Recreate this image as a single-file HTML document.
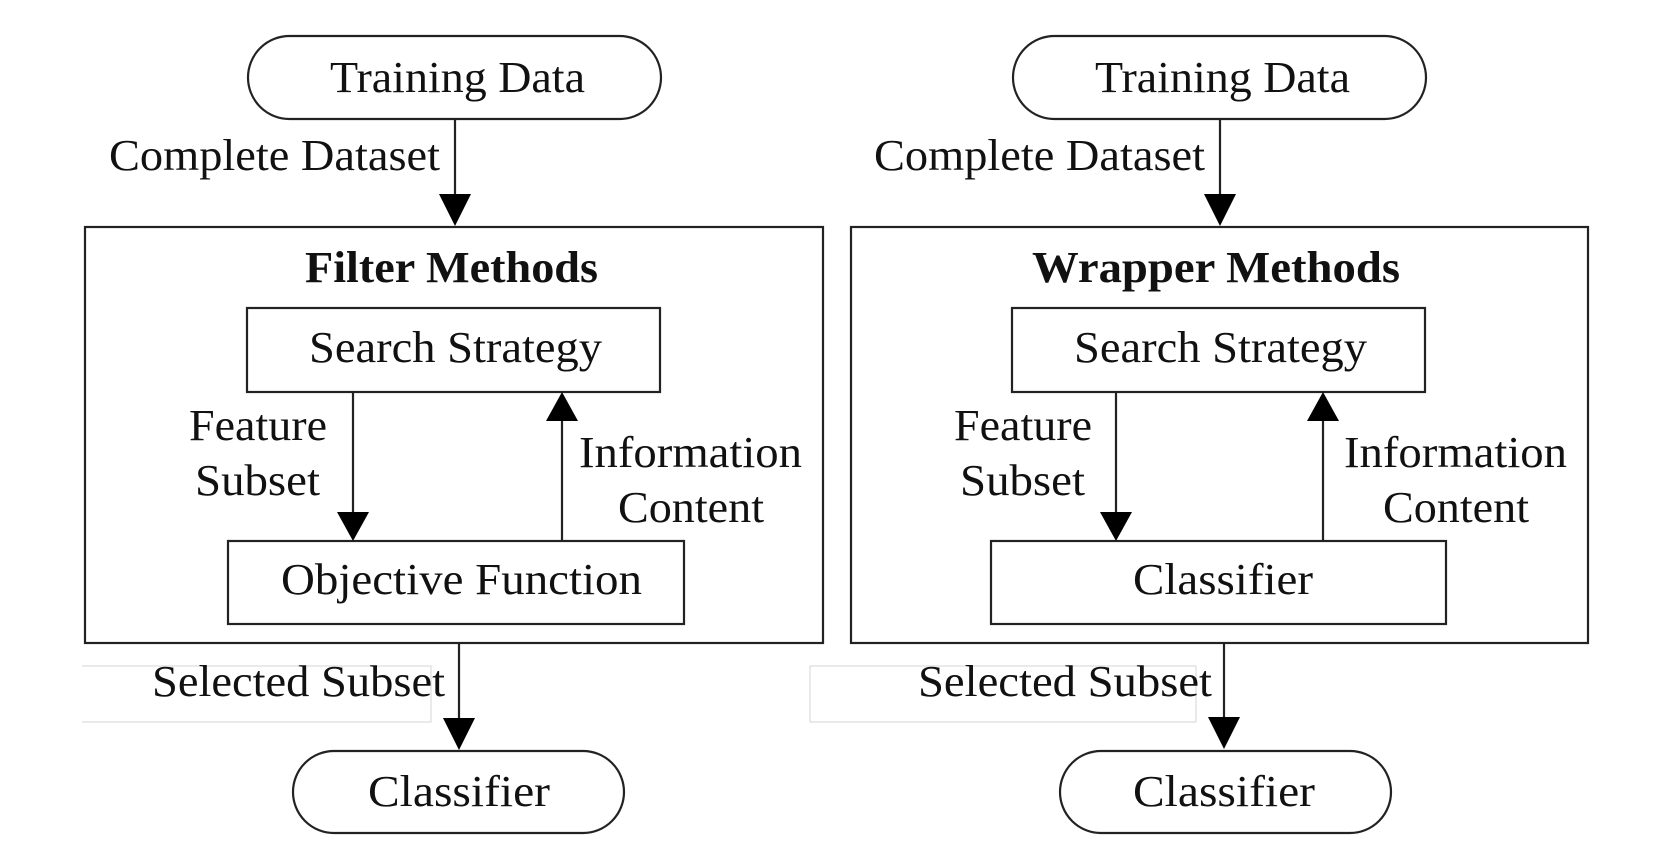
<!DOCTYPE html>
<html><head><meta charset="utf-8"><style>
html,body{margin:0;padding:0;background:#fff;}
svg{display:block;}
text{font-family:"Liberation Serif",serif;font-size:44px;fill:#111;}
.b{font-weight:bold;}
</style></head><body>
<svg width="1671" height="866" viewBox="0 0 1671 866" xmlns="http://www.w3.org/2000/svg">
<g stroke="#222" stroke-width="2.2" fill="none">
<!-- left -->
<rect x="248" y="36" width="413" height="83" rx="41.5"/>
<line x1="455" y1="119" x2="455" y2="196"/>
<rect x="85" y="227" width="738" height="416"/>
<rect x="247" y="308" width="413" height="84"/>
<rect x="228" y="541" width="456" height="83"/>
<line x1="353" y1="392" x2="353" y2="512"/>
<line x1="562" y1="541" x2="562" y2="420"/>
<line x1="459" y1="643" x2="459" y2="720"/>
<rect x="293" y="751" width="331" height="82" rx="41"/>
<!-- right -->
<rect x="1013" y="36" width="413" height="83" rx="41.5"/>
<line x1="1220" y1="119" x2="1220" y2="196"/>
<rect x="851" y="227" width="737" height="416"/>
<rect x="1012" y="308" width="413" height="84"/>
<rect x="991" y="541" width="455" height="83"/>
<line x1="1116" y1="392" x2="1116" y2="512"/>
<line x1="1323" y1="541" x2="1323" y2="420"/>
<line x1="1224" y1="643" x2="1224" y2="720"/>
<rect x="1060" y="751" width="331" height="82" rx="41"/>
</g>
<g stroke="#ddd" stroke-width="1.2" fill="none">
<polyline points="82,666 431,666 431,722 82,722"/>
<rect x="810" y="666" width="386" height="56"/>
</g>
<g fill="#000">
<polygon points="439,194 471,194 455,226"/>
<polygon points="337,512 369,512 353,541"/>
<polygon points="546,421 578,421 562,392"/>
<polygon points="443,718 475,718 459,750"/>
<polygon points="1204,194 1236,194 1220,226"/>
<polygon points="1100,512 1132,512 1116,541"/>
<polygon points="1307,421 1339,421 1323,392"/>
<polygon points="1208,717 1240,717 1224,749"/>
</g>
<!-- left text -->
<text x="330" y="92" textLength="255" lengthAdjust="spacingAndGlyphs">Training Data</text>
<text x="109" y="170" textLength="331" lengthAdjust="spacingAndGlyphs">Complete Dataset</text>
<text class="b" x="305" y="282" textLength="293" lengthAdjust="spacingAndGlyphs">Filter Methods</text>
<text x="309" y="362" textLength="293" lengthAdjust="spacingAndGlyphs">Search Strategy</text>
<text x="189" y="440" textLength="138" lengthAdjust="spacingAndGlyphs">Feature</text>
<text x="195" y="495" textLength="125" lengthAdjust="spacingAndGlyphs">Subset</text>
<text x="579" y="467" textLength="223" lengthAdjust="spacingAndGlyphs">Information</text>
<text x="618" y="522" textLength="146" lengthAdjust="spacingAndGlyphs">Content</text>
<text x="281" y="594" textLength="361" lengthAdjust="spacingAndGlyphs">Objective Function</text>
<text x="152" y="696" textLength="293" lengthAdjust="spacingAndGlyphs">Selected Subset</text>
<text x="368" y="806" textLength="182" lengthAdjust="spacingAndGlyphs">Classifier</text>
<!-- right text -->
<text x="1095" y="92" textLength="255" lengthAdjust="spacingAndGlyphs">Training Data</text>
<text x="874" y="170" textLength="331" lengthAdjust="spacingAndGlyphs">Complete Dataset</text>
<text class="b" x="1032" y="282" textLength="368" lengthAdjust="spacingAndGlyphs">Wrapper Methods</text>
<text x="1074" y="362" textLength="293" lengthAdjust="spacingAndGlyphs">Search Strategy</text>
<text x="954" y="440" textLength="138" lengthAdjust="spacingAndGlyphs">Feature</text>
<text x="960" y="495" textLength="125" lengthAdjust="spacingAndGlyphs">Subset</text>
<text x="1344" y="467" textLength="223" lengthAdjust="spacingAndGlyphs">Information</text>
<text x="1383" y="522" textLength="146" lengthAdjust="spacingAndGlyphs">Content</text>
<text x="1133" y="594" textLength="180" lengthAdjust="spacingAndGlyphs">Classifier</text>
<text x="918" y="696" textLength="294" lengthAdjust="spacingAndGlyphs">Selected Subset</text>
<text x="1133" y="806" textLength="182" lengthAdjust="spacingAndGlyphs">Classifier</text>
</svg>
</body></html>
